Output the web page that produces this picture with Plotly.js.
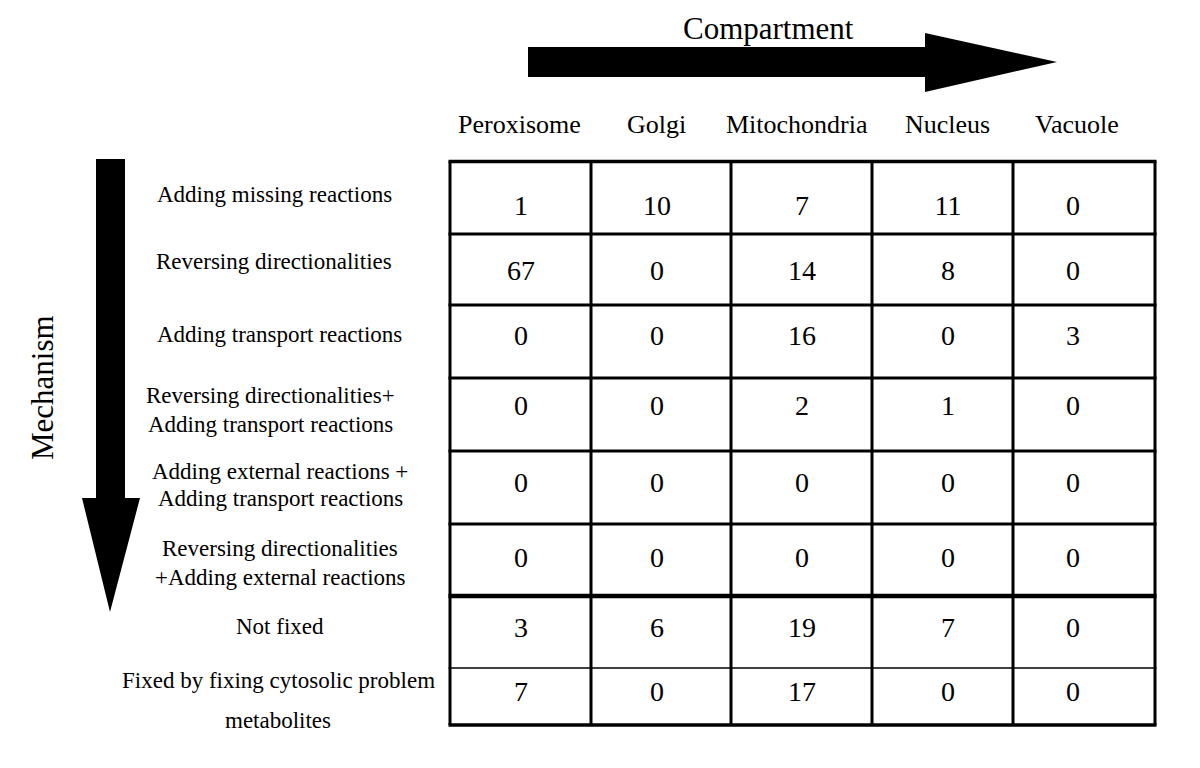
<!DOCTYPE html>
<html>
<head>
<meta charset="utf-8">
<script src="https://cdn.plot.ly/plotly-3.0.1.min.js"></script>
<style>html,body{margin:0;padding:0;background:#fff;}#chart{width:1200px;height:768px;}</style>
</head>
<body>
<div id="chart"></div>
<script>
// ---- data ----
const compartments = ["Peroxisome", "Golgi", "Mitochondria", "Nucleus", "Vacuole"];
const mechanisms = [
  "Adding missing reactions",
  "Reversing directionalities",
  "Adding transport reactions",
  "Reversing directionalities+<br>Adding transport reactions",
  "Adding external reactions +<br>Adding transport reactions",
  "Reversing directionalities<br>+Adding external reactions",
  "Not fixed",
  "Fixed by fixing cytosolic problem<br>metabolites"
];
const peroxisome   = [1, 67, 0, 0, 0, 0, 3, 7];
const golgi        = [10, 0, 0, 0, 0, 0, 6, 0];
const mitochondria = [7, 14, 16, 2, 0, 0, 19, 17];
const nucleus      = [11, 8, 0, 1, 0, 0, 7, 0];
const vacuole      = [0, 0, 3, 0, 0, 0, 0, 0];
const columnTitle = "Compartment";
const rowTitle = "Mechanism";

// ---- layout geometry (style) ----
const FONT = "'Liberation Serif', 'Times New Roman', serif";
const series = [peroxisome, golgi, mitochondria, nucleus, vacuole];
const colLines = [450, 591, 731, 872, 1013, 1155];
const rowLines = [161.5, 234, 305, 378, 451, 524, 596, 668, 725];
const rowLineW = [3.5, 3, 3, 3, 3, 3, 4.5, 1.5, 3.5];
const colTextX = [521, 657, 802, 948, 1073];
const headerX = [519, 656, 797, 947, 1077];
const numY = [207.5, 272.5, 338, 408, 484.5, 560, 629.5, 693.5];
const labelX = [274.5, 274, 279.5, 270, 280, 280, 280, 278];
const labelY = [194, 261.5, 334, 409.5, 484.5, 562.5, 626, 700];
const lineGap = [0, 0, 0, 29, 27, 29, 0, 40];

// number cells
const xs = [], ys = [], ts = [];
series.forEach((vals, j) => {
  vals.forEach((v, i) => { xs.push(colTextX[j]); ys.push(numY[i]); ts.push(String(v)); });
});
const traces = [{
  type: "scatter", mode: "text", x: xs, y: ys, text: ts,
  textposition: "middle center",
  textfont: {family: FONT, size: 28, color: "#000"},
  hoverinfo: "skip", showlegend: false
}];

const shapes = [];
rowLines.forEach((y, k) => shapes.push({type: "line", xref: "x", yref: "y",
  x0: colLines[0] - 1.5, x1: colLines[colLines.length - 1] + 1.5, y0: y, y1: y,
  line: {color: "#000", width: rowLineW[k]}}));
colLines.forEach(x => shapes.push({type: "line", xref: "x", yref: "y",
  x0: x, x1: x, y0: rowLines[0], y1: rowLines[rowLines.length - 1],
  line: {color: "#000", width: 3}}));
// arrows
shapes.push({type: "path", xref: "x", yref: "y",
  path: "M528,47 L925,47 L925,33 L1057,62 L925,92 L925,77 L528,77 Z",
  fillcolor: "#000", line: {width: 0}});
shapes.push({type: "path", xref: "x", yref: "y",
  path: "M96,159 L125,159 L125,498 L140,498 L110,612 L82,498 L96,498 Z",
  fillcolor: "#000", line: {width: 0}});

const annotations = [];
compartments.forEach((c, j) => annotations.push({xref: "x", yref: "y", x: headerX[j], y: 124,
  text: c, showarrow: false, font: {family: FONT, size: 26, color: "#000"}}));
mechanisms.forEach((m, i) => {
  const lines = m.split("<br>");
  lines.forEach((ln, k) => {
    const y = labelY[i] + (k - (lines.length - 1) / 2) * lineGap[i];
    annotations.push({xref: "x", yref: "y", x: labelX[i], y: y, text: ln, showarrow: false,
      font: {family: FONT, size: 23, color: "#000"}});
  });
});
annotations.push({xref: "x", yref: "y", x: 768, y: 28, text: columnTitle, showarrow: false,
  font: {family: FONT, size: 31, color: "#000"}});
annotations.push({xref: "x", yref: "y", x: 42, y: 388, text: rowTitle, showarrow: false, textangle: -90,
  font: {family: FONT, size: 31, color: "#000"}});

const layout = {
  width: 1200, height: 768,
  margin: {l: 0, r: 0, t: 0, b: 0},
  paper_bgcolor: "#fff", plot_bgcolor: "#fff",
  xaxis: {range: [0, 1200], visible: false, fixedrange: true},
  yaxis: {range: [768, 0], visible: false, fixedrange: true},
  shapes: shapes, annotations: annotations, showlegend: false
};
Plotly.newPlot("chart", traces, layout, {displayModeBar: false, staticPlot: true});
</script>
</body>
</html>
